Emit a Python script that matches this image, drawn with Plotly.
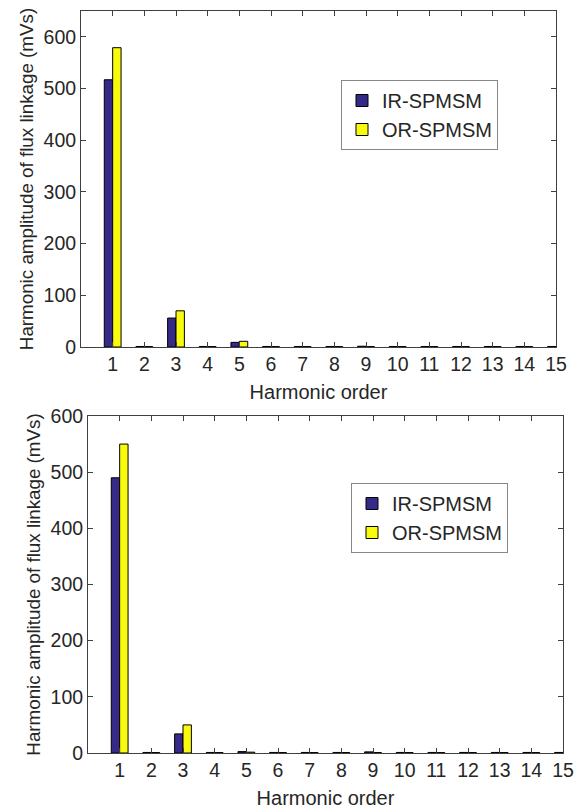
import plotly.graph_objects as go

orders = list(range(1, 16))
tick_labels = [str(i) for i in orders]

top_ir = [517, 1, 56, 1, 9, 1, 1, 1, 1.5, 1, 1, 1, 1, 1, 1]
top_or = [579, 0.8, 70, 0.8, 11, 0.8, 0.8, 0.8, 0.8, 0.8, 0.8, 0.8, 0.8, 0.8, 0.8]
bot_ir = [490, 1, 34, 1, 2.5, 1, 1, 1, 2, 1, 1, 1, 1, 1, 1]
bot_or = [550, 0.8, 50, 0.8, 1.5, 0.8, 0.8, 0.8, 0.8, 0.8, 0.8, 0.8, 0.8, 0.8, 0.8]

series_names = ["IR-SPMSM", "OR-SPMSM"]
y_ticks = [0, 100, 200, 300, 400, 500, 600]

C_IR = "#352A87"
C_OR = "#F9FB0E"
AX = "#404040"
TXT = "#262626"
FONT = "Liberation Sans, Arial, sans-serif"

W, H = 576, 810
ML, MR, MT, MB = 60, 5, 5, 45
PW, PH = W - ML - MR, H - MT - MB


def dx(a, b):
    return [(a - ML) / PW, (b - ML) / PW]


def dy(top, bottom):
    return [(H - MB - bottom) / PH, (H - MB - top) / PH]


fig = go.Figure()
for vals, name, col in [(top_ir, series_names[0], C_IR), (top_or, series_names[1], C_OR)]:
    fig.add_trace(go.Bar(x=orders, y=vals, name=name, marker=dict(color=col, line=dict(color="black", width=1)),
                         xaxis="x", yaxis="y", legend="legend"))
for vals, name, col in [(bot_ir, series_names[0], C_IR), (bot_or, series_names[1], C_OR)]:
    fig.add_trace(go.Bar(x=orders, y=vals, name=name, marker=dict(color=col, line=dict(color="black", width=1)),
                         xaxis="x2", yaxis="y2", legend="legend2"))


def xa(domain, anchor):
    return dict(domain=domain, anchor=anchor, range=[0, 15], tickvals=orders, ticktext=tick_labels,
                showline=True, linecolor=AX, linewidth=1, mirror="ticks", ticks="inside", ticklen=5,
                tickcolor=AX, showgrid=False, zeroline=False, automargin=False,
                tickfont=dict(size=19.5, color=TXT, family=FONT),
                title=dict(text="Harmonic order", font=dict(size=20, color=TXT, family=FONT), standoff=10))


def ya(domain, anchor, rng):
    return dict(domain=domain, anchor=anchor, range=rng, tickvals=y_ticks,
                showline=True, linecolor=AX, linewidth=1, mirror="ticks", ticks="inside", ticklen=5,
                tickcolor=AX, showgrid=False, zeroline=False, automargin=False,
                tickfont=dict(size=19.5, color=TXT, family=FONT),
                title=dict(text="Harmonic amplitude of flux linkage (mVs)",
                           font=dict(size=18.8, color=TXT, family=FONT), standoff=4))


def leg(x, y):
    return dict(x=x, y=y, xanchor="left", yanchor="top", xref="paper", yref="paper",
                bgcolor="white", bordercolor="#888888", borderwidth=1,
                font=dict(size=20, color=TXT, family=FONT), tracegroupgap=0, itemwidth=30)


fig.update_layout(
    width=W, height=H, margin=dict(l=ML, r=MR, t=MT, b=MB),
    paper_bgcolor="white", plot_bgcolor="white",
    barmode="group", bargap=0.47, bargroupgap=0,
    xaxis=xa(dx(81, 556), "y"),
    yaxis=ya(dy(11, 347), "x", [0, 650]),
    xaxis2=xa(dx(88, 563), "y2"),
    yaxis2=ya(dy(416, 753), "x2", [0, 600]),
    legend=leg((341 - ML) / PW, (H - MB - 80) / PH),
    legend2=leg((351 - ML) / PW, (H - MB - 483) / PH),
)

fig.write_html("out.html")
